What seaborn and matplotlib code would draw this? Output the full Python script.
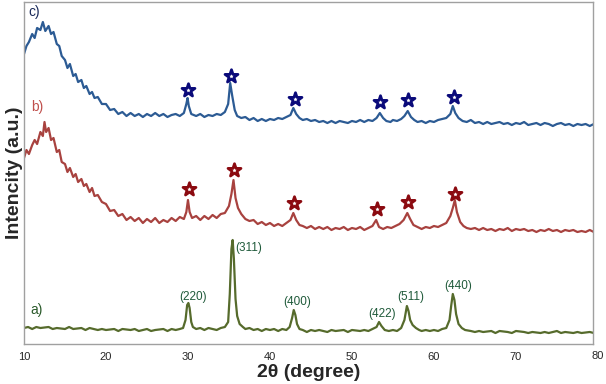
import numpy as np
import pandas as pd
import matplotlib
matplotlib.use("Agg")
import matplotlib.pyplot as plt
import seaborn as sns

# --- data (intensity in arbitrary units) ---
# a) pristine ferrite pattern (green)
a_theta = [10, 10.5, 11, 11.5, 12, 13, 13.5, 14, 15, 15.5, 16, 17, 17.5, 18, 19, 19.5, 20, 21, 21.5, 22,
           23, 23.5, 24, 25, 25.5, 26, 27, 27.5, 28, 28.5, 29, 29.4, 29.7, 29.9, 30.05, 30.2, 30.4, 30.6,
           31, 31.5, 32, 32.5, 33, 33.5, 34, 34.5, 34.9, 35.1, 35.3, 35.45, 35.6, 35.8, 36.0, 36.3, 36.7,
           37, 37.5, 38, 38.5, 39, 39.5, 40, 40.5, 41, 41.5, 42, 42.4, 42.7, 42.9, 43.1, 43.3, 43.6, 44,
           44.5, 45, 45.5, 46, 47, 47.5, 48, 49, 49.5, 50, 51, 51.5, 52, 52.5, 53, 53.3, 53.6, 54, 54.5,
           55, 55.5, 56, 56.4, 56.7, 56.9, 57.1, 57.4, 57.8, 58.2, 58.5, 59, 59.5, 60, 60.5, 61, 61.5,
           61.9, 62.1, 62.3, 62.5, 62.7, 63, 63.4, 63.8, 64.5, 65, 65.5, 66, 67, 67.5, 68, 69, 69.5, 70,
           71, 71.5, 72, 73, 73.5, 74, 75, 75.5, 76, 77, 77.5, 78, 79, 79.5, 80]
a_int = [16, 17, 15, 17, 16, 17, 15, 16, 15, 17, 15, 16, 14, 16, 14, 15, 14, 15, 13, 15,
         14, 15, 13, 15, 13, 14, 15, 13, 15, 14, 15, 16, 24, 39, 41, 36, 22, 17,
         15, 16, 14, 16, 15, 14, 16, 17, 22, 50, 95, 104, 85, 45, 28, 20, 17,
         15, 16, 14, 15, 13, 15, 14, 15, 13, 15, 14, 17, 26, 34, 29, 20, 15, 14,
         12, 14, 13, 14, 12, 14, 13, 14, 12, 14, 13, 14, 13, 15, 17, 22, 18, 14, 13,
         14, 13, 16, 24, 38, 33, 24, 19, 16, 14, 13, 14, 13, 14, 13, 15, 16,
         24, 38, 50, 44, 30, 20, 16, 14, 13, 12, 13, 12, 13, 11, 13, 12, 11, 13,
         12, 11, 12, 11, 12, 11, 13, 11, 12, 11, 12, 11, 12, 11, 12]

# b) composite pattern (red)
b_theta = [10, 10.3, 10.6, 11, 11.3, 11.6, 12, 12.3, 12.5, 12.7, 13, 13.3, 13.6, 14, 14.3, 14.6, 15, 15.3,
           15.6, 16, 16.3, 16.6, 17, 17.3, 17.6, 18, 18.3, 18.6, 19, 19.5, 20, 20.5, 21, 21.5, 22, 22.5,
           23, 23.5, 24, 24.5, 25, 25.5, 26, 26.5, 27, 27.5, 28, 28.5, 29, 29.5, 29.8, 30.0, 30.2, 30.5,
           31, 31.5, 32, 32.5, 33, 33.5, 34, 34.5, 35, 35.3, 35.55, 35.8, 36.1, 36.5, 37, 37.5, 38, 38.5,
           39, 39.5, 40, 40.5, 41, 41.5, 42, 42.5, 42.85, 43.2, 43.6, 44, 44.5, 45, 45.5, 46, 46.5, 47,
           47.5, 48, 48.5, 49, 49.5, 50, 50.5, 51, 51.5, 52, 52.5, 52.95, 53.3, 53.8, 54.3, 54.8, 55.3,
           55.8, 56.3, 56.75, 57.1, 57.5, 58, 58.5, 59, 59.5, 60, 60.5, 61, 61.5, 62, 62.3, 62.55, 62.8,
           63.2, 63.6, 64, 64.5, 65, 65.5, 66, 66.5, 67, 67.5, 68, 68.5, 69, 69.5, 70, 70.5, 71, 71.5,
           72, 72.5, 73, 73.5, 74, 74.5, 75, 75.5, 76, 76.5, 77, 77.5, 78, 78.5, 79, 79.5, 80]
b_int = [186, 194, 190, 199, 204, 200, 212, 208, 222, 212, 216, 204, 206, 192, 194, 182, 180, 172,
         176, 167, 170, 162, 165, 158, 160, 152, 156, 148, 149, 142, 140, 133, 134, 128, 130, 124,
         127, 123, 126, 121, 125, 122, 126, 121, 124, 122, 126, 123, 127, 125, 132, 144, 132, 126,
         128, 124, 128, 125, 129, 126, 130, 131, 138, 150, 164, 146, 136, 130, 125, 123, 124, 120,
         122, 119, 121, 118, 120, 118, 121, 124, 131, 124, 119, 118, 116, 118, 115, 117, 115, 117,
         114, 116, 115, 117, 114, 116, 115, 117, 114, 116, 118, 124, 117, 115, 117, 116, 118,
         120, 124, 131, 125, 119, 117, 115, 117, 116, 118, 117, 119, 121, 128, 136, 144, 132,
         122, 118, 116, 115, 116, 114, 116, 114, 115, 113, 115, 114, 116, 113, 115, 114, 115, 113,
         114, 112, 114, 113, 115, 113, 114, 112, 114, 113, 114, 112, 113, 112, 114, 112, 113]

# c) composite pattern (blue)
c_theta = [10, 10.3, 10.6, 11, 11.3, 11.6, 12, 12.3, 12.6, 13, 13.3, 13.6, 14, 14.3, 14.6, 15, 15.3, 15.6,
           16, 16.3, 16.6, 17, 17.3, 17.6, 18, 18.3, 18.6, 19, 19.5, 20, 20.5, 21, 21.5, 22, 22.5, 23,
           23.5, 24, 24.5, 25, 25.5, 26, 26.5, 27, 27.5, 28, 28.5, 29, 29.5, 29.8, 29.95, 30.1, 30.4,
           31, 31.5, 32, 32.5, 33, 33.5, 34, 34.5, 34.9, 35.15, 35.4, 35.7, 36, 36.5, 37, 37.5, 38,
           38.5, 39, 39.5, 40, 40.5, 41, 41.5, 42, 42.5, 42.85, 43.2, 43.6, 44, 44.5, 45, 45.5, 46,
           46.5, 47, 47.5, 48, 48.5, 49, 49.5, 50, 50.5, 51, 51.5, 52, 52.5, 53, 53.4, 53.8, 54.2,
           54.7, 55, 55.5, 56, 56.4, 56.8, 57.2, 57.6, 58, 58.5, 59, 59.5, 60, 60.5, 61, 61.5, 62,
           62.3, 62.6, 63, 63.5, 64, 64.5, 65, 65.5, 66, 66.5, 67, 67.5, 68, 68.5, 69, 69.5, 70,
           70.5, 71, 71.5, 72, 72.5, 73, 73.5, 74, 74.5, 75, 75.5, 76, 76.5, 77, 77.5, 78, 78.5,
           79, 79.5, 80]
c_int = [290, 298, 302, 310, 306, 316, 314, 322, 313, 318, 310, 312, 300, 298, 288, 284, 276, 280,
         268, 270, 262, 264, 256, 258, 250, 252, 246, 247, 240, 240, 234, 235, 230, 232, 228, 231,
         228, 230, 227, 230, 228, 231, 228, 230, 227, 229, 230, 228, 231, 240, 246, 238, 230,
         228, 230, 227, 229, 228, 230, 229, 232, 240, 261, 248, 234, 228, 226, 227, 224, 226,
         223, 225, 223, 225, 224, 226, 225, 227, 229, 236, 230, 226, 224, 225, 223, 224, 222,
         223, 221, 223, 221, 223, 222, 221, 223, 222, 224, 222, 224, 223, 226, 231, 226, 223,
         222, 224, 223, 225, 228, 233, 227, 224, 222, 223, 221, 223, 222, 224, 225, 226, 230,
         238, 231, 226, 223, 222, 224, 221, 222, 220, 222, 220, 221, 222, 220, 221, 219, 221,
         220, 222, 219, 220, 221, 219, 221, 220, 218, 220, 221, 219, 220, 218, 220, 219, 220,
         218, 220, 219]

# star markers above the reflections of b) and c)
star_c_theta = [30.0, 35.2, 43.0, 53.4, 56.8, 62.4]
star_c_int = [254, 268, 245, 242, 244, 247]
star_b_theta = [30.1, 35.6, 42.9, 53.0, 56.8, 62.6]
star_b_int = [155, 174, 141, 135, 142, 150]

# Miller indices for pattern a)
hkl_labels = ["(220)", "(311)", "(400)", "(422)", "(511)", "(440)"]
hkl_theta = [30.6, 37.4, 43.3, 53.7, 57.2, 62.9]
hkl_int = [47, 96, 42, 30, 47, 58]

green = "#566b2c"
red = "#a8423f"
blue = "#2c5b94"

sns.set_style("white")
plt.rcParams["font.family"] = ["Liberation Sans", "DejaVu Sans"]

fig = plt.figure(figsize=(6.06, 3.84), dpi=100)
ax = fig.add_axes([24 / 606, 40 / 384, 569 / 606, 342 / 384])

df_a = pd.DataFrame({"theta": a_theta, "I": a_int})
df_b = pd.DataFrame({"theta": b_theta, "I": b_int})
df_c = pd.DataFrame({"theta": c_theta, "I": c_int})

sns.lineplot(data=df_a, x="theta", y="I", color=green, lw=1.6, sort=False, ax=ax)
sns.lineplot(data=df_b, x="theta", y="I", color=red, lw=1.6, sort=False, ax=ax)
sns.lineplot(data=df_c, x="theta", y="I", color=blue, lw=1.6, sort=False, ax=ax)

sns.scatterplot(x=star_c_theta, y=star_c_int, marker="*", s=95, color="white",
                edgecolor="#0a0a7a", linewidth=2.0, zorder=5, ax=ax)
sns.scatterplot(x=star_b_theta, y=star_b_int, marker="*", s=95, color="white",
                edgecolor="#8b0a10", linewidth=2.0, zorder=5, ax=ax)

for lab, tx, ty in zip(hkl_labels, hkl_theta, hkl_int):
    ax.text(tx, ty, lab, color="#1f5a3a", fontsize=8.5, ha="center", va="center")

ax.text(11.5, 34, "a)", color="#2a5a2a", fontsize=10, ha="center", va="center")
ax.text(11.6, 237, "b)", color="#c0504d", fontsize=10, ha="center", va="center")
ax.text(11.3, 332, "c)", color="#1a2a5a", fontsize=10, ha="center", va="center")

ax.set_xlim(10, 79.4)
ax.set_ylim(0, 342)
ax.set_xticks([10, 20, 30, 40, 50, 60, 70])
ax.set_yticks([])
ax.tick_params(axis="x", length=0, pad=6, labelsize=8)
ax.text(80, -12, "80", fontsize=8, ha="center", va="center", clip_on=False)

ax.set_xlabel("2θ (degree)", fontsize=14, fontweight="bold", labelpad=1)
ax.set_ylabel("Intencity (a.u.)", fontsize=14, fontweight="bold", labelpad=1)

for sp in ax.spines.values():
    sp.set_color("#a0a0a0")
    sp.set_linewidth(1.0)

fig.savefig("out.png", dpi=100)
